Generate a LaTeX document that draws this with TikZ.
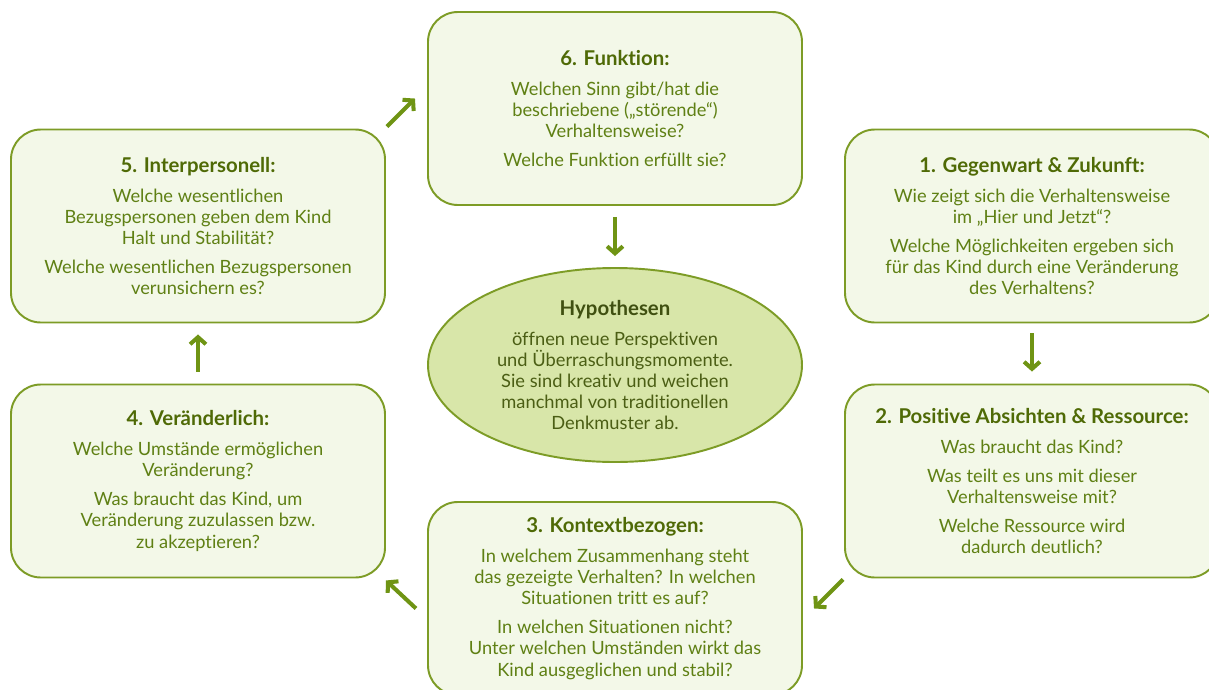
\documentclass[tikz,border=0pt]{standalone}
\usepackage{fontspec}
\setmainfont{Lato}[Ligatures=NoCommon]
\usetikzlibrary{arrows.meta,shapes.geometric}

\definecolor{cardline}{HTML}{7D9C26}
\definecolor{cardfill}{HTML}{F3F8E8}
\definecolor{cardtext}{HTML}{5F8014}
\definecolor{cardhead}{HTML}{4F6A06}
\definecolor{hypfill}{HTML}{D8E6A9}
\definecolor{hyptext}{HTML}{4B5E14}
\definecolor{flowcol}{HTML}{6F9414}

\newcommand\cardhd[1]{{\bfseries\fontsize{11.6}{13}\selectfont\color{cardhead}#1}}

\begin{document}
\begin{tikzpicture}[x=0.2mm,y=-0.2mm,
  card/.style={draw=cardline,line width=1.1pt,fill=cardfill,rounded corners=17pt,
    minimum width=74.8mm,minimum height=38.6mm,inner sep=0pt,
    text=cardtext,align=center,font=\fontsize{10.4}{12}\selectfont},
  hyp/.style={ellipse,draw=cardline,line width=1.1pt,fill=hypfill,
    minimum width=74.8mm,minimum height=38.8mm,inner sep=0pt,
    text=hyptext,align=center,font=\fontsize{10.4}{12}\selectfont},
  flow/.style={draw=flowcol,line width=2.3pt,-{Straight Barb[length=4pt,width=9pt]}}]
\clip (0,0) rectangle (1209,689);
\fill[white] (0,0) rectangle (1209,689);

\node[card] (b6) at (615,108.5) {\cardhd{6. Funktion:}\\[5pt]
  Welchen Sinn gibt/hat die\\ beschriebene („störende“)\\ Verhaltensweise?\\[4.5pt]
  Welche Funktion erfüllt sie?};
\node[card] (b5) at (198,226) {\cardhd{5. Interpersonell:}\\[5pt]
  Welche wesentlichen\\ Bezugspersonen geben dem Kind\\ Halt und Stabilität?\\[4.5pt]
  Welche wesentlichen Bezugspersonen\\ verunsichern es?};
\node[card] (b1) at (1032,226) {\cardhd{1. Gegenwart \& Zukunft:}\\[5pt]
  Wie zeigt sich die Verhaltensweise\\ im „Hier und Jetzt“?\\[4.5pt]
  Welche Möglichkeiten ergeben sich\\ für das Kind durch eine Veränderung\\ des Verhaltens?};
\node[card] (b4) at (198,481) {\cardhd{4. Veränderlich:}\\[5pt]
  Welche Umstände ermöglichen\\ Veränderung?\\[4.5pt]
  Was braucht das Kind, um\\ Veränderung zuzulassen bzw.\\ zu akzeptieren?};
\node[card] (b2) at (1032,481) {\cardhd{2. Positive Absichten \& Ressource:}\\[5pt]
  Was braucht das Kind?\\[4.5pt]
  Was teilt es uns mit dieser\\ Verhaltensweise mit?\\[4.5pt]
  Welche Ressource wird\\ dadurch deutlich?};
\node[card] (b3) at (615,598.5) {\cardhd{3. Kontextbezogen:}\\[5pt]
  In welchem Zusammenhang steht\\ das gezeigte Verhalten? In welchen\\ Situationen tritt es auf?\\[4.5pt]
  In welchen Situationen nicht?\\ Unter welchen Umständen wirkt das\\ Kind ausgeglichen und stabil?};
\node[hyp] (hyp) at (615,365) {{\bfseries\fontsize{11.6}{13}\selectfont\color{hyptext!85!black}Hypothesen}\\[5pt]
  öffnen neue Perspektiven\\ und Überraschungsmomente.\\ Sie sind kreativ und weichen\\
  manchmal von traditionellen\\ Denkmuster ab.};

\draw[flow,shorten <=2.2mm,shorten >=2.2mm] (b6) -- (hyp);
\draw[flow,shorten <=2mm,shorten >=2.4mm] (b1) -- (b2);
\draw[flow,shorten <=2.4mm,shorten >=2.2mm] (b4) -- (b5);
\draw[flow] ([shift={(-1,1)}]b2.south west) -- ([shift={(-30,30)}]b2.south west);
\draw[flow] ([shift={(30,30)}]b4.south east) -- ([shift={(0,2)}]b4.south east);
\draw[flow] ([shift={(1,-2)}]b5.north east) -- ([shift={(29,-30)}]b5.north east);
\end{tikzpicture}
\end{document}
